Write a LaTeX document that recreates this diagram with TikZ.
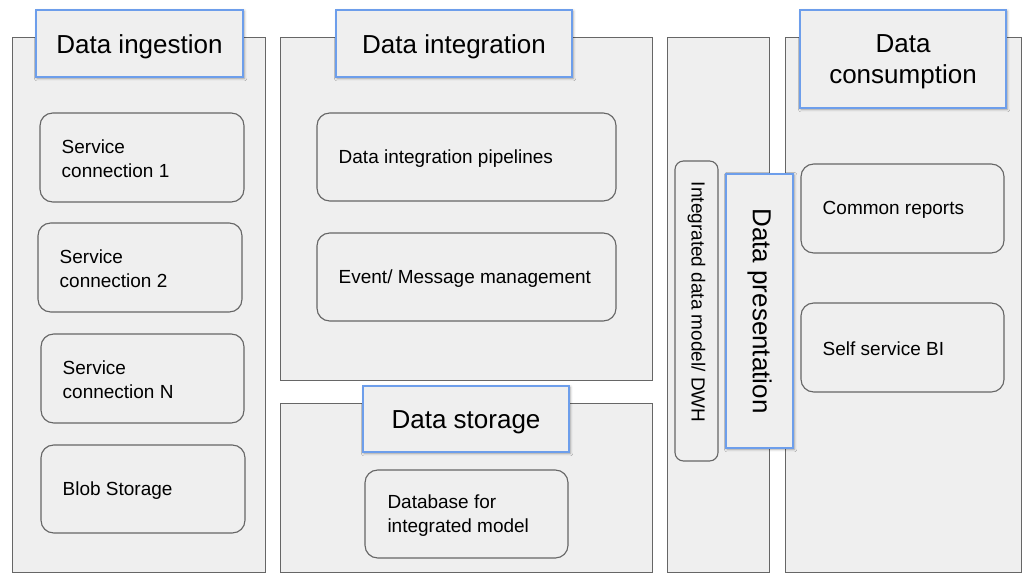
\documentclass[tikz,border=0pt]{standalone}
\usepackage{fontspec}
\setmainfont{Liberation Sans}
\usetikzlibrary{fit,shadows.blur}
\definecolor{panelfill}{HTML}{EFEFEF}
\definecolor{panelline}{HTML}{666666}
\definecolor{titleline}{HTML}{6D9EEB}

\begin{document}
\begin{tikzpicture}[x=0.025cm, y=-0.025cm,
  panel/.style={draw=panelline, fill=panelfill, line width=0.7pt, inner sep=0pt},
  item/.style={draw=panelline, fill=panelfill, line width=0.8pt, rounded corners=9pt, inner sep=0pt},
  heading/.style={draw=titleline, fill=panelfill, line width=1.2pt, inner sep=0pt,
    blur shadow={shadow xshift=0.8pt, shadow yshift=-0.8pt, shadow blur radius=2pt, shadow blur steps=6, shadow opacity=35}},
  headtext/.style={inner sep=0pt, align=center, font=\fontsize{18.5}{22}\selectfont},
  itemtext/.style={inner sep=0pt, align=left, font=\fontsize{13.5}{17}\selectfont}]
  \useasboundingbox (0,0) rectangle (1036,583);

  % the five columns
  \node[panel, fit={(12,37) (265,572)}] (ingest) {};
  \node[panel, fit={(280,37) (652,380)}] (integr) {};
  \node[panel, fit={(280,403) (652,572)}] (store) {};
  \node[panel, fit={(667,37) (769,572)}] (present) {};
  \node[panel, fit={(785,37) (1021,572)}] (consume) {};

  % ingestion boxes
  \foreach \n/\lab/\xa/\ya/\xb/\yb in {1/{Service\\connection 1}/40/113/244/202,
      2/{Service\\connection 2}/38/223/242/312, 3/{Service\\connection N}/41/334/244/423,
      4/{Blob Storage}/41/445/245/533} {
    \node[item, fit={(\xa,\ya) (\xb,\yb)}] (sc\n) {};
    \node[itemtext, anchor=west] (sc\n-text) at ([xshift=0.55cm, yshift=-0.04cm]sc\n.west) {\lab};
  }

  % integration, storage and consumption boxes
  \node[item, fit={(317,113) (616,201)}] (pipes) {};
  \node[itemtext, anchor=west] (pipes-text) at ([xshift=0.55cm, yshift=-0.04cm]pipes.west) {Data integration pipelines};
  \node[item, fit={(317,233) (616,321)}] (events) {};
  \node[itemtext, anchor=west] (events-text) at ([xshift=0.55cm, yshift=-0.04cm]events.west) {Event/ Message management};
  \node[item, fit={(365,470) (568,558)}] (dbase) {};
  \node[itemtext, anchor=west] (dbase-text) at ([xshift=0.57cm, yshift=-0.04cm]dbase.west) {Database for\\integrated model};
  \node[item, fit={(801,164) (1004,253)}] (reports) {};
  \node[itemtext, anchor=west] (reports-text) at ([xshift=0.55cm, yshift=-0.04cm]reports.west) {Common reports};
  \node[item, fit={(801,303) (1004,392)}] (selfbi) {};
  \node[itemtext, anchor=west] (selfbi-text) at ([xshift=0.55cm, yshift=-0.04cm]selfbi.west) {Self service BI};

  % data warehouse box, text runs downwards
  \node[item, rounded corners=6pt, fit={(675,161) (718,461)}] (dwh) {};
  \node[itemtext, rotate=-90] (dwh-text) at ([yshift=0.22cm]dwh.center) {Integrated data model/ DWH};

  % headings on top of the columns
  \node[heading, fit={(36,10) (243,77)}] (ingest-title) {};
  \node[headtext] (ingest-text) at ([yshift=-0.08cm]ingest-title.center) {Data ingestion};
  \node[heading, fit={(336,10) (572,77)}] (integr-title) {};
  \node[headtext] (integr-text) at ([yshift=-0.08cm]integr-title.center) {Data integration};
  \node[heading, fit={(363,386) (569,452)}] (store-title) {};
  \node[headtext] (store-text) at ([yshift=-0.08cm]store-title.center) {Data storage};
  \node[heading, fit={(800,10) (1006,108)}] (consume-title) {};
  \node[headtext] (consume-text) at ([yshift=-0.08cm]consume-title.center) {Data\\consumption};
  \node[heading, fit={(726,174) (793,448)}] (present-title) {};
  \node[headtext, rotate=-90] (present-text) at (present-title.center) {Data presentation};
\end{tikzpicture}
\end{document}
